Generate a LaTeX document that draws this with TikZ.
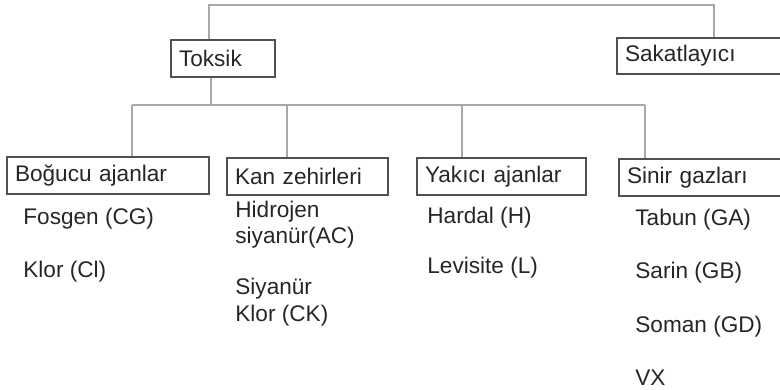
\documentclass[tikz,border=0pt]{standalone}
\usepackage{fontspec}
\setmainfont{Liberation Sans}
\usepackage{xcolor}
\usepackage{tikz}
\usetikzlibrary{positioning,calc}

\definecolor{boxline}{HTML}{505050}
\definecolor{linkgray}{HTML}{A8A8A8}
\definecolor{txtgray}{HTML}{262626}

\begin{document}
\begin{tikzpicture}[
  x=0.5pt, y=-0.5pt,
  box/.style={draw=boxline, line width=1pt, anchor=north west, inner xsep=4pt, inner ysep=0pt, minimum height=18.5pt, align=left, text=txtgray, font=\fontsize{11.3pt}{13.3pt}\selectfont},
  item/.style={anchor=west, inner sep=0pt, align=left, text=txtgray, font=\fontsize{11.3pt}{13.3pt}\selectfont},
  link/.style={draw=linkgray, line width=0.8pt}
]
\useasboundingbox (0,0) rectangle (780,390);

\node[box, text width=44pt] (toksik) at (170,39) {Toksik};
\node[box, text width=87pt, minimum height=18pt] (sakat) at (616,37) {Sakatlayıcı};

\node[box, text width=93pt] (bogucu) at (6,156) {Boğucu ajanlar};
\node[box, text width=72.5pt] (kan) at (226,157) {Kan zehirleri};
\node[box, text width=76.5pt] (yakici) at (416,157) {Yakıcı ajanlar};
\node[box, text width=87pt] (sinir) at (618,158) {Sinir gazları};

\node[item] (fosgen) at (23,219) {Fosgen (CG)};
\node[item] (klor) at (23,272) {Klor (Cl)};

\node[item] (hidrojen) at (235,224.5) {Hidrojen\\siyanür(AC)};
\node[item] (siyanur) at (235,302) {Siyanür\\Klor (CK)};

\node[item] (hardal) at (427,218) {Hardal (H)};
\node[item] (levisite) at (427,268) {Levisite (L)};

\node[item] (tabun) at (635,220) {Tabun (GA)};
\node[item] (sarin) at (635,273) {Sarin (GB)};
\node[item] (soman) at (635,327) {Soman (GD)};
\node[item] (vx) at (635,378) {VX};

\coordinate (topL) at (209,5);
\coordinate (topR) at (714,5);
\draw[link] (toksik.north -| topL) -- (topL) -- (topR) -- (topR |- sakat.north);

\coordinate (bus) at (211,105);
\draw[link] (toksik.south -| bus) -- (bus);
\foreach \x/\n in {132/bogucu, 287/kan, 462/yakici, 645/sinir}{
  \coordinate (drop-\n) at (\x,105);
  \draw[link] (drop-\n) -- (drop-\n |- \n.north);
}
\draw[link] (drop-bogucu) -- (drop-sinir);

\end{tikzpicture}
\end{document}
